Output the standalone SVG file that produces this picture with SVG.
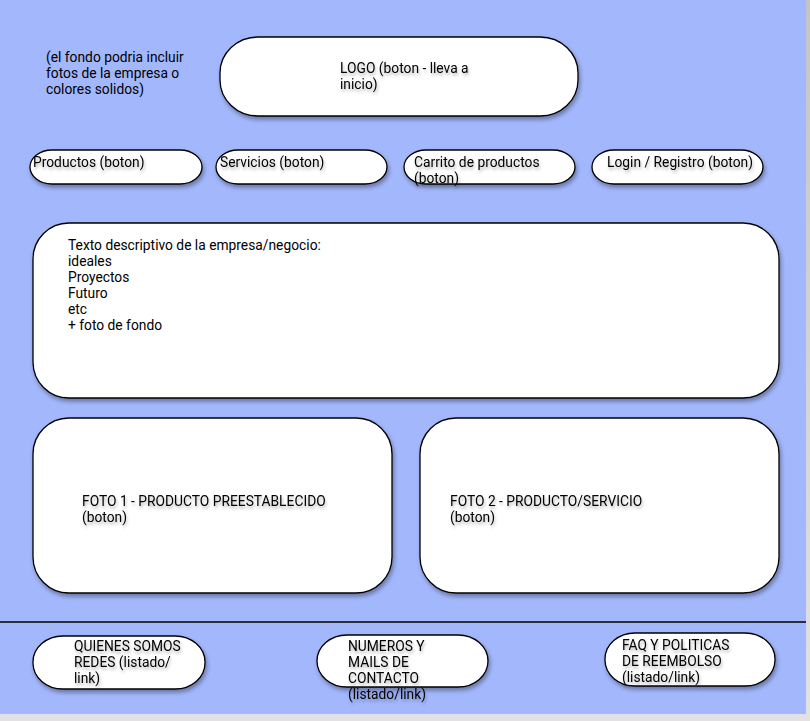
<svg xmlns="http://www.w3.org/2000/svg" width="810" height="721" viewBox="0 0 810 721">
<defs>
<filter id="sh" x="-10%" y="-10%" width="125%" height="135%">
<feDropShadow dx="1.5" dy="3" stdDeviation="2" flood-color="#000" flood-opacity="0.35"/>
</filter>
<filter id="tsh" x="-10%" y="-30%" width="125%" height="180%">
<feDropShadow dx="1" dy="2.5" stdDeviation="1.8" flood-color="#000" flood-opacity="0.3"/>
</filter>
<linearGradient id="bg2" x1="0" y1="0" x2="0" y2="1">
<stop offset="0" stop-color="#c4c4c6"/>
<stop offset="1" stop-color="#e2e2e4"/>
</linearGradient>
</defs>
<style>
.box{fill:#ffffff;stroke:#000000;stroke-width:1.3;filter:url(#sh)}
.t{font-family:Roboto,"Liberation Sans",sans-serif;font-size:13.8px;fill:#000000}
.ts{filter:url(#tsh)}
</style>
<rect x="0" y="0" width="810" height="721" fill="url(#bg2)"/>
<rect x="0" y="0" width="806" height="714" fill="#a3b7fd"/>
<g id="connectors">
<line x1="0" y1="622" x2="806" y2="622" stroke="#000" stroke-width="1.3"/>
</g>
<g id="note">
<text class="t"><tspan x="46" y="62">(el fondo podria incluir</tspan><tspan x="46" y="78">fotos de la empresa o</tspan><tspan x="46" y="94">colores solidos)</tspan></text>
</g>
<g id="logo">
<rect class="box" x="220" y="37" width="358" height="79" rx="38" ry="36"/>
<text class="t ts"><tspan x="340" y="73">LOGO (boton - lleva a</tspan><tspan x="340" y="89">inicio)</tspan></text>
</g>
<g id="productos">
<rect class="box" x="30" y="150" width="172" height="34" rx="22" ry="17"/>
<text class="t ts" x="33" y="167">Productos (boton)</text>
</g>
<g id="servicios">
<rect class="box" x="216" y="150" width="171" height="34" rx="22" ry="17"/>
<text class="t ts" x="220" y="167">Servicios (boton)</text>
</g>
<g id="carrito">
<rect class="box" x="404" y="150" width="171" height="34" rx="22" ry="17"/>
<text class="t ts"><tspan x="414" y="167">Carrito de productos</tspan><tspan x="414" y="183">(boton)</tspan></text>
</g>
<g id="login">
<rect class="box" x="592" y="150" width="171" height="34" rx="22" ry="17"/>
<text class="t ts" x="607" y="167">Login / Registro (boton)</text>
</g>
<g id="descripcion">
<rect class="box" x="33" y="223" width="746" height="175" rx="36" ry="36"/>
<text class="t"><tspan x="68" y="250">Texto descriptivo de la empresa/negocio:</tspan><tspan x="68" y="266">ideales</tspan><tspan x="68" y="282">Proyectos</tspan><tspan x="68" y="298">Futuro</tspan><tspan x="68" y="314">etc</tspan><tspan x="68" y="330">+ foto de fondo</tspan></text>
</g>
<g id="foto1">
<rect class="box" x="33" y="418" width="359" height="175" rx="36" ry="36"/>
<text class="t ts"><tspan x="82" y="506">FOTO 1 - PRODUCTO PREESTABLECIDO</tspan><tspan x="82" y="522">(boton)</tspan></text>
</g>
<g id="foto2">
<rect class="box" x="420" y="418" width="359" height="175" rx="36" ry="36"/>
<text class="t ts"><tspan x="450" y="506">FOTO 2 - PRODUCTO/SERVICIO</tspan><tspan x="450" y="522">(boton)</tspan></text>
</g>
<g id="quienes">
<rect class="box" x="33" y="636" width="172" height="53" rx="30" ry="26"/>
<text class="t ts"><tspan x="74" y="651">QUIENES SOMOS</tspan><tspan x="74" y="667">REDES (listado/</tspan><tspan x="74" y="683">link)</tspan></text>
</g>
<g id="numeros">
<rect class="box" x="317" y="635" width="171" height="52" rx="30" ry="26"/>
<text class="t ts"><tspan x="348" y="651">NUMEROS Y</tspan><tspan x="348" y="667">MAILS DE</tspan><tspan x="348" y="683">CONTACTO</tspan><tspan x="348" y="699">(listado/link)</tspan></text>
</g>
<g id="faq">
<rect class="box" x="605" y="633" width="170" height="53" rx="30" ry="26"/>
<text class="t ts"><tspan x="622" y="650">FAQ Y POLITICAS</tspan><tspan x="622" y="666">DE REEMBOLSO</tspan><tspan x="622" y="682">(listado/link)</tspan></text>
</g>
</svg>
